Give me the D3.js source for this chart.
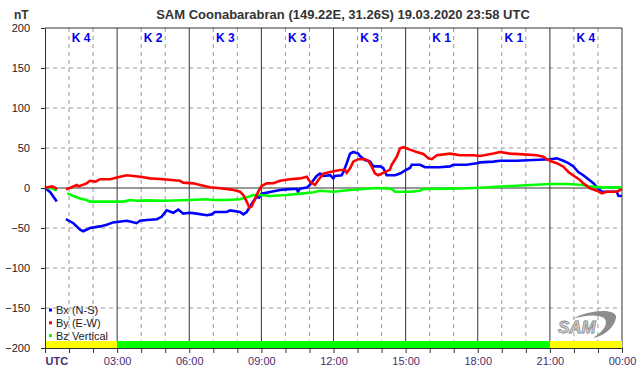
<!DOCTYPE html>
<html><head><meta charset="utf-8">
<script src="https://cdn.jsdelivr.net/npm/d3@7"></script>
<style>body{margin:0;background:#fff}svg{display:block;font-family:"Liberation Sans",Arial,sans-serif}</style>
</head><body><svg id="c" width="642" height="376"></svg>
<script>
const title = "SAM Coonabarabran (149.22E, 31.26S) 19.03.2020 23:58 UTC";
const kLabels = ["K 4","K 2","K 3","K 3","K 3","K 1","K 1","K 4"];
const yTicks = [-200,-150,-100,-50,0,50,100,150,200];
const xTickLabels = ["UTC","03:00","06:00","09:00","12:00","15:00","18:00","21:00","00:00"];
const barSegments = [{from:0,to:3,color:"#ffff00"},{from:3,to:21,color:"#00ff00"},{from:21,to:24,color:"#ffff00"}];

// Bx (N-S): [hour, nT]; null = data gap
const bxData = [[0,0],[0.08,-2],[0.21,-5],[0.35,-11],[0.49,-17],[0.6,null],
[0.87,-39],[1.18,-44],[1.46,-52],[1.59,-54],[1.87,-50],[2.29,-48],[2.57,-46],[2.83,-43],[3.4,-41],[3.54,-42],[3.81,-44],[3.95,-41],
[4.23,-40],[4.65,-39],[4.85,-36],[5.06,-28],[5.34,-31],[5.54,-27],[5.75,-32],[6.03,-31],[6.31,-32],[6.73,-34],[6.93,-33],[7.07,-30],
[7.56,-30],[7.7,-28],[8.11,-30],[8.25,-33],[8.39,-30],[8.53,-23],[8.66,-17],[8.81,-11],[8.9,-12],[9.01,-7],[9.36,-5],[9.78,-2.5],
[10.05,-1.7],[10.47,-1],[10.52,-4.6],[10.6,-1],[10.89,0.5],[11.02,4],[11.3,15],[11.44,18],[11.6,15],[11.86,16],[11.99,12],[12.05,15],
[12.34,16],[12.41,20],[12.55,31],[12.69,43],[12.82,45],[13.03,43],[13.1,40],[13.31,35],[13.52,33],[13.66,27],[13.93,27],[14.07,25],
[14.21,16],[14.56,16],[14.77,18],[14.98,22],[15.18,25],[15.25,29],[15.6,29],[15.81,26],[16.4,26],[16.85,27],[16.98,29],[17.54,29],
[17.96,31],[18.1,32],[18.65,33],[18.93,34],[19.62,34],[20.31,35],[21.01,36],[21.29,37],[21.56,34],[21.77,31],[21.98,27],[22.18,20],
[22.39,16],[22.6,11],[22.81,6],[22.95,1],[23.16,-4.6],[23.5,-4.6],[23.78,-4.6],[23.85,-9.6],[23.99,-10]];

// By (E-W)
const byData = [[0,0],[0.1,1],[0.3,2],[0.45,0],[0.49,-2],[0.6,null],
[0.87,-1.7],[1.11,1],[1.32,3.75],[1.4,2],[1.73,5.8],[1.87,9],[2.1,8],[2.29,11],[2.71,11],[2.99,13],[3.4,16],[3.68,15],[3.95,14],
[4.37,12],[4.92,11],[5.61,9],[5.75,6.7],[6.17,5.8],[6.45,3.75],[6.86,1],[7.28,-0.4],[7.7,-1.7],[7.85,-2.5],[8.11,-4.6],[8.25,-8.75],
[8.39,-17],[8.5,-24.6],[8.6,-23],[8.74,-13],[8.87,-4.6],[9.01,2.5],[9.22,5.8],[9.5,6],[9.78,9],[10.19,11],[10.61,12],[10.89,14],
[11.02,8],[11.23,3.75],[11.37,10],[11.58,18],[11.86,20],[12.27,22.5],[12.48,22.5],[12.55,19],[12.69,24.6],[12.82,33],[13.03,36],
[13.31,36],[13.45,34],[13.59,26.6],[13.73,18],[13.86,16],[14.07,19],[14.35,23],[14.42,29],[14.63,39],[14.77,49.6],[14.91,51],
[15.18,48],[15.46,45],[15.74,42.5],[15.95,37],[16.09,36],[16.3,41],[16.85,43],[17.26,41],[17.82,41],[18.1,40],[18.65,43],[18.93,45],
[19.34,43],[19.89,42],[20.45,41],[20.73,39],[20.87,36],[21.08,33],[21.29,31],[21.56,26.6],[21.77,20],[22.05,14],[22.25,10],
[22.39,5.8],[22.67,-0.4],[22.95,-3.4],[23.16,-6.7],[23.36,-4.6],[23.78,-4.6],[23.92,-2.5],[24,-2]];

// Bz Vertical
const bzData = [[0,0],[0.21,0],[0.35,-1],[0.42,-2.5],[0.49,-2.5],[0.6,null],
[0.93,-6.7],[1.18,-10],[1.46,-13],[1.73,-15],[1.87,-17],[2.57,-17],[3.26,-17],[3.54,-15],[3.81,-16],[4.23,-15.5],[5,-16],[6,-15],
[6.73,-14],[7,-15],[7.56,-15],[8.11,-14],[8.39,-11.7],[8.66,-8.75],[9,-8.75],[9.36,-10],[10.05,-8.75],[10.75,-6.7],[11.16,-5.4],
[11.44,-3.4],[12,-4.6],[12.69,-2.5],[13.8,0],[14.4,-1],[14.56,-4.6],[15.18,-4.6],[15.6,-3.4],[15.74,-1.2],[16.85,-0.8],[17.54,-0.4],
[18.1,0.4],[18.93,1.7],[19.62,2.9],[21.01,5],[21.7,5],[22.39,3.75],[22.67,1.7],[23.2,0.8],[24,0.8]];

const seriesNames = ["Bx (N-S)","By (E-W)","Bz Vertical"];
const seriesColors = ["#0000ff","#ff0000","#00ff00"];

const svg = d3.select("#c");
const x = d3.scaleLinear().domain([0,24]).range([45,622]);
const y = d3.scaleLinear().domain([-200,200]).range([348,28]);

// grid
const hours = d3.range(0,25);
svg.append("g").selectAll("line").data(hours.filter(h=>h%3!==0)).join("line")
  .attr("x1",d=>x(d)).attr("x2",d=>x(d)).attr("y1",y(200)).attr("y2",y(-200))
  .attr("stroke","#9a9a9a").attr("stroke-dasharray","4,4");
svg.append("g").selectAll("line").data(yTicks.filter(v=>v!==0&&Math.abs(v)!==200)).join("line")
  .attr("x1",x(0)).attr("x2",x(24)).attr("y1",d=>y(d)).attr("y2",d=>y(d))
  .attr("stroke","#9a9a9a").attr("stroke-dasharray","4,4");
svg.append("g").selectAll("line").data(hours.filter(h=>h%3===0&&h>0&&h<24)).join("line")
  .attr("x1",d=>x(d)).attr("x2",d=>x(d)).attr("y1",y(200)).attr("y2",y(-200))
  .attr("stroke","#333").attr("stroke-width",1);
svg.append("line").attr("x1",x(0)).attr("x2",x(24)).attr("y1",y(0)).attr("y2",y(0)).attr("stroke","#333");

// border
svg.append("line").attr("x1",x(0)).attr("x2",x(24)).attr("y1",y(200)).attr("y2",y(200)).attr("stroke","#333");
svg.append("line").attr("x1",x(24)).attr("x2",x(24)).attr("y1",y(200)).attr("y2",y(-200)).attr("stroke","#333");

// K labels
svg.append("g").selectAll("text").data(kLabels).join("text")
  .attr("x",(d,i)=>x(i*3+1.5)).attr("y",42).attr("text-anchor","middle")
  .attr("font-size",12).attr("font-weight","bold").attr("fill","#0000ee").text(d=>d);

// bottom bar
svg.append("g").selectAll("rect").data(barSegments).join("rect")
  .attr("x",d=>x(d.from)).attr("width",d=>x(d.to)-x(d.from))
  .attr("y",341).attr("height",7).attr("fill",d=>d.color);

// lines
const line = d3.line().defined(d=>d[1]!==null).x(d=>x(d[0])).y(d=>y(d[1]));
[[bxData,0],[bzData,2],[byData,1]].forEach(([data,i])=>{
  svg.append("path").datum(data).attr("d",line).attr("fill","none")
    .attr("stroke",seriesColors[i]).attr("stroke-width",2.6).attr("stroke-linejoin","miter");
});

// axes
const yAxis = svg.append("g").attr("transform",`translate(${x(0)},0)`)
  .call(d3.axisLeft(y).tickValues(yTicks).tickSize(4).tickPadding(11).tickSizeOuter(0));
yAxis.select(".domain").attr("stroke","#333");
yAxis.selectAll(".tick line").attr("stroke","#333");
yAxis.selectAll("text").attr("font-size",11).attr("fill","#222").attr("font-family","Liberation Sans, Arial, sans-serif");

const xAxis = svg.append("g").attr("transform",`translate(0,${y(-200)})`)
  .call(d3.axisBottom(x).tickValues(hours).tickSize(5).tickPadding(4).tickSizeOuter(0)
    .tickFormat(d=>d%3===0?xTickLabels[d/3]:""));
xAxis.select(".domain").attr("stroke","#333");
xAxis.selectAll(".tick line").attr("stroke","#333");
xAxis.selectAll("text").attr("font-size",11).attr("fill","#4a2d6e").attr("font-family","Liberation Sans, Arial, sans-serif");
xAxis.selectAll(".tick").filter(d=>d===0).select("text").attr("text-anchor","start").attr("font-weight","bold");

// title & unit
svg.append("text").attr("x",343).attr("y",19).attr("text-anchor","middle").attr("font-size",13)
  .attr("font-weight","bold").attr("fill","#333").text(title);
svg.append("text").attr("x",14).attr("y",19).attr("font-size",12).attr("font-weight","bold").attr("fill","#333").text("nT");

// legend
const leg = svg.append("g").selectAll("g").data(seriesNames).join("g")
  .attr("transform",(d,i)=>`translate(49,${310+i*12.8})`);
leg.append("rect").attr("x",0).attr("y",-1.5).attr("width",3).attr("height",3).attr("fill",(d,i)=>seriesColors[i]);
leg.append("text").attr("x",7).attr("y",4).attr("font-size",11).attr("fill","#222").text(d=>d);

// SAM logo
const logo = svg.append("g");
logo.append("path").attr("d","M572,319 C590,309 618,308 616,318 C614,328 604,336 593,338 C604,331 609,323 604,318 C598,314 585,315 572,319 Z")
  .attr("fill","#8c8c8c");
logo.append("text").attr("x",558).attr("y",333).attr("font-size",17).attr("font-style","italic").attr("font-weight","bold")
  .attr("fill","#d8d8d8").attr("stroke","#888").attr("stroke-width",0.8).text("SAM");
</script></body></html>
